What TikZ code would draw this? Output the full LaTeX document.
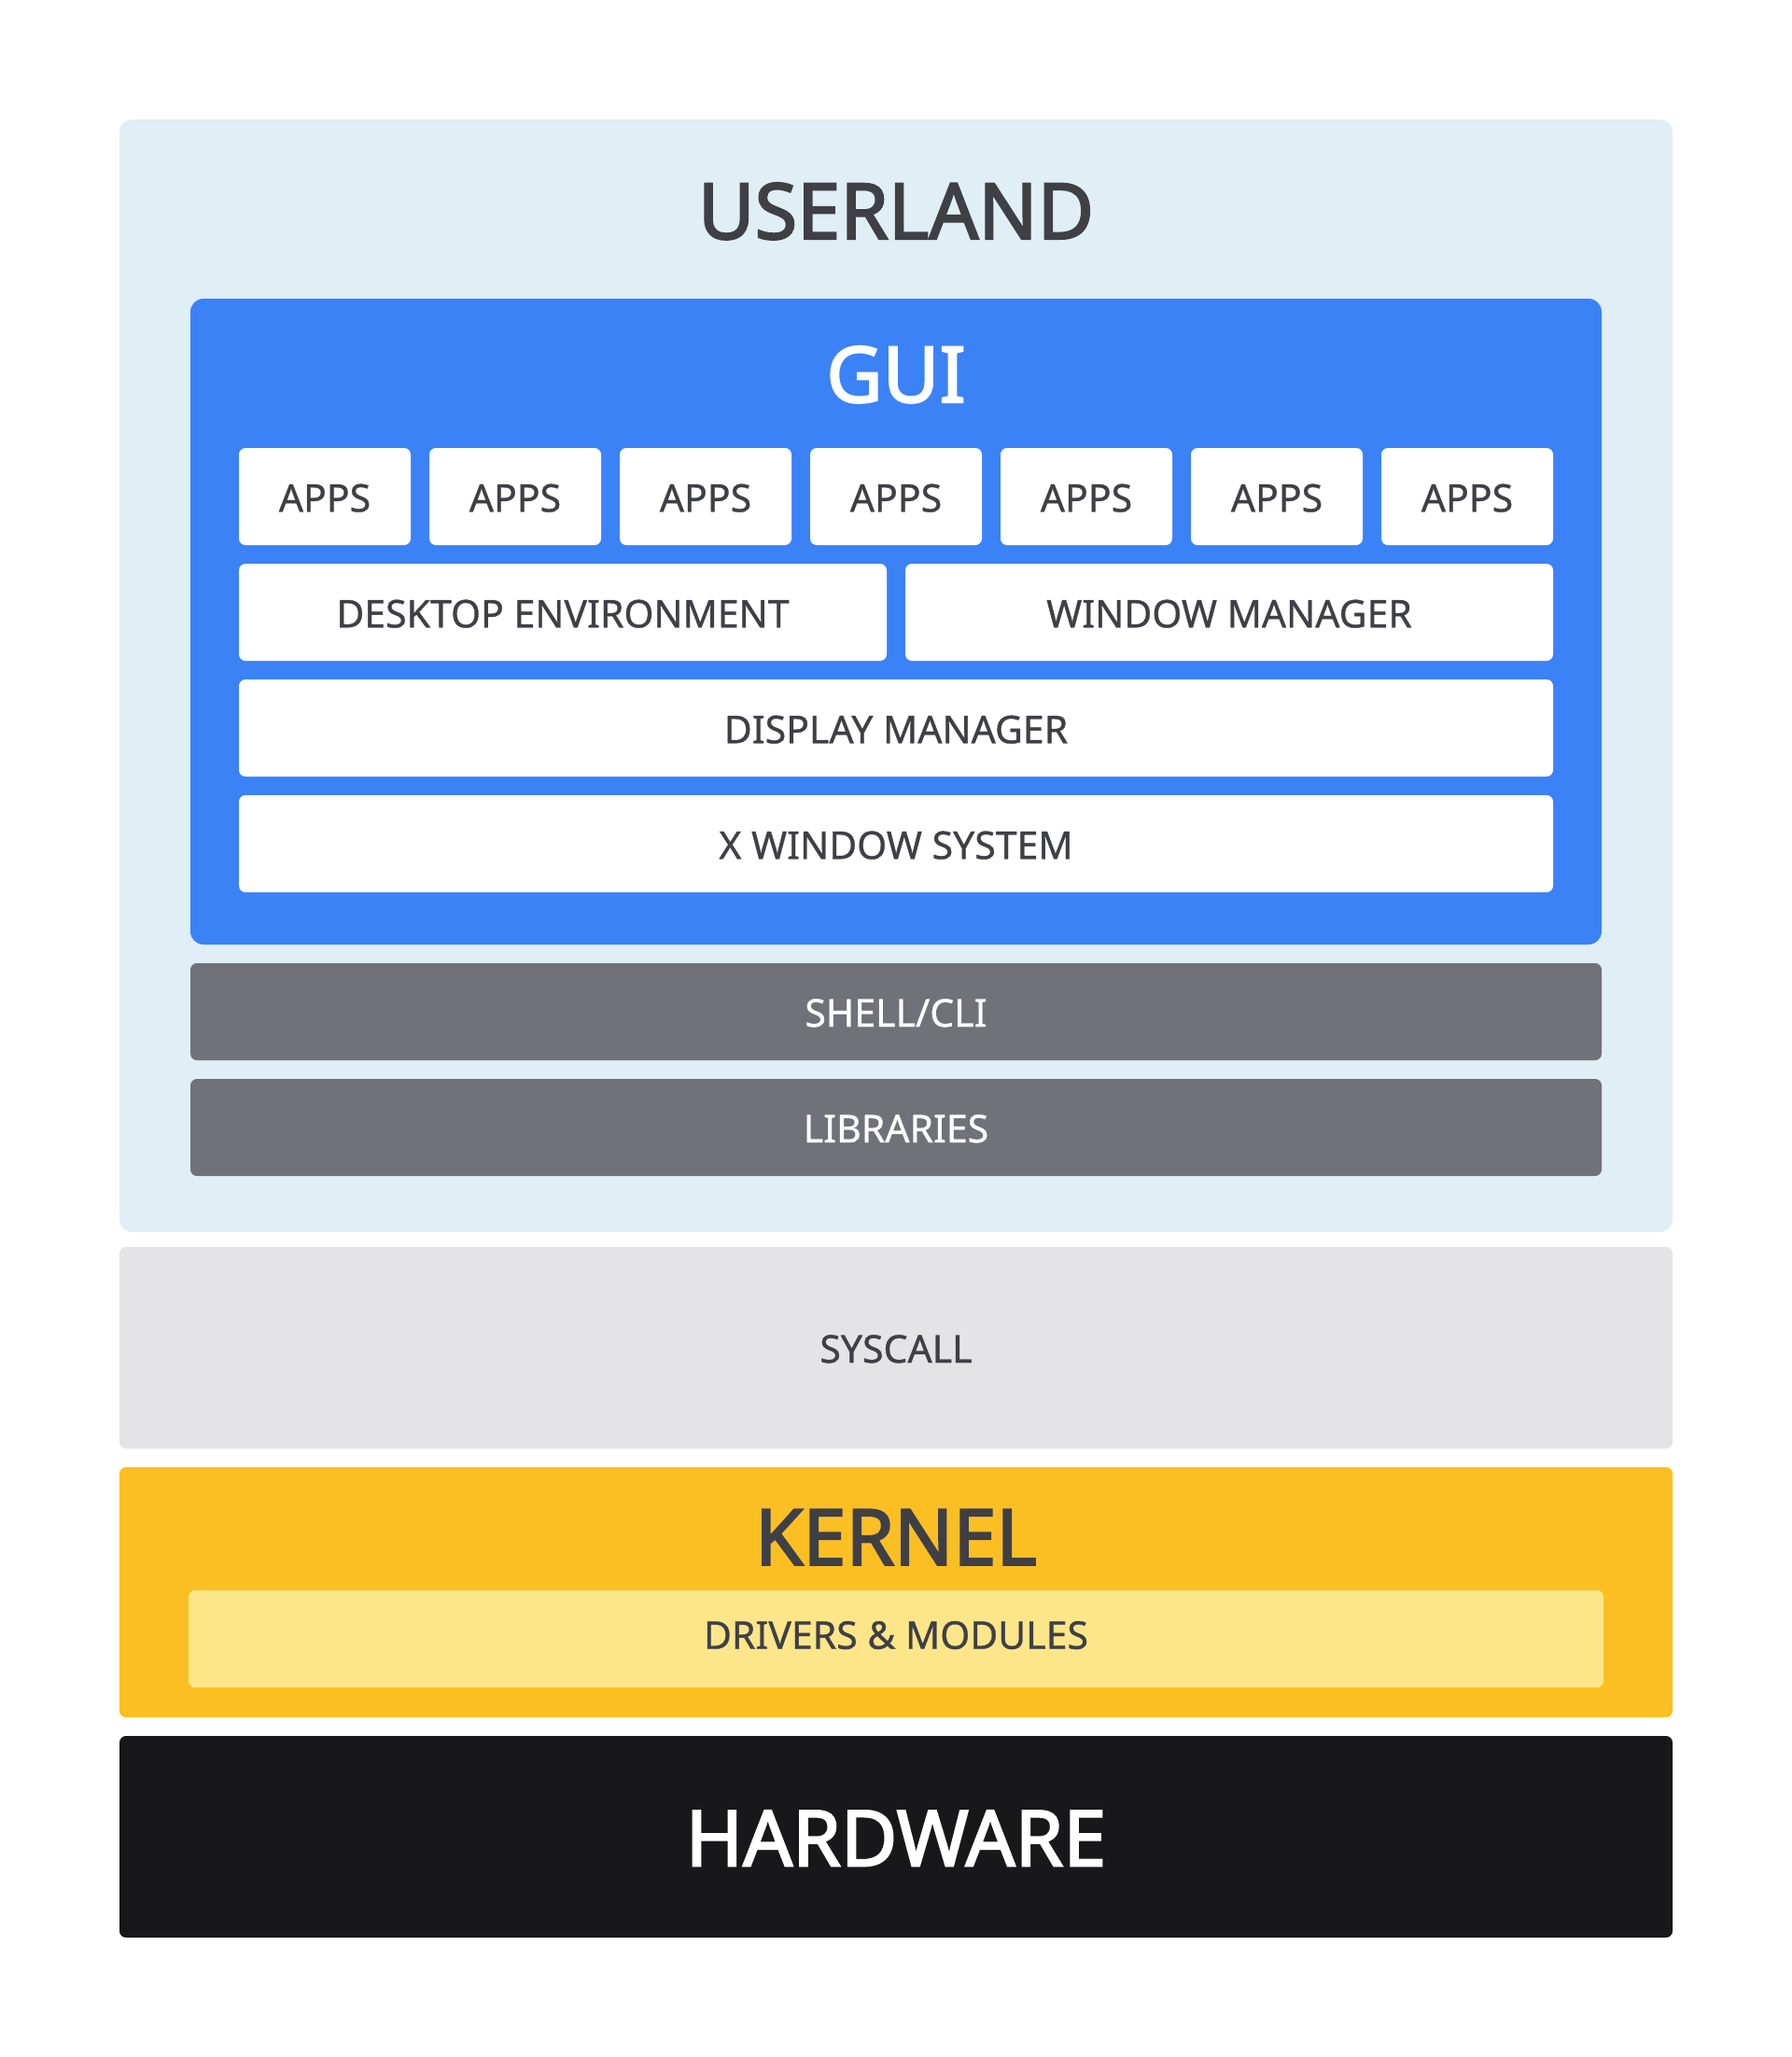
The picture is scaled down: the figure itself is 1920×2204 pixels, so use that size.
\documentclass[tikz,border=0pt]{standalone}
\usepackage{fontspec}
\setmainfont{Noto Sans}
\IfFontExistsTF{Noto Sans SemiBold}{\newfontfamily\titlefont{Noto Sans SemiBold}}{%
    \newfontfamily\titlefont{Noto Sans}[FakeBold=2.5]}
\IfFontExistsTF{Noto Sans Medium}{\newfontfamily\labelfont{Noto Sans Medium}}{%
  \newfontfamily\labelfont{Noto Sans}[FakeBold=0.8]}
\definecolor{bgblue}{HTML}{E0EEF6}
\definecolor{guiblue}{HTML}{3B82F6}
\definecolor{barGray}{HTML}{71717A}
\definecolor{sysGray}{HTML}{E4E4E7}
\definecolor{kernYel}{HTML}{FBBF24}
\definecolor{drvYel}{HTML}{FDE68A}
\definecolor{hwBlack}{HTML}{18181B}
\definecolor{txtDark}{HTML}{3F3F46}
\tikzset{
  box/.style={draw=none, inner sep=0pt, outer sep=0pt, anchor=north west, rounded corners=7pt},
  bigbox/.style={box, rounded corners=14pt},
  title/.style={inner sep=0pt, anchor=base, font=\titlefont\fontsize{83}{90}\selectfont},
  label/.style={inner sep=0pt, anchor=base, font=\labelfont\fontsize{41}{48}\selectfont},
}
\begin{document}
\begin{tikzpicture}[x=1pt,y=-1pt]
\path[use as bounding box, fill=white] (0,0) rectangle (1920,2204);
% USERLAND
\node[bigbox, fill=bgblue, minimum width=1664pt, minimum height=1192pt] (user) at (128,128) {};
\node[title, text=txtDark] (tuser) at (960,256) {USERLAND};
% GUI
\node[bigbox, fill=guiblue, minimum width=1512pt, minimum height=692pt] (gui) at (204,320) {};
\node[title, text=white] (tgui) at (960,431) {GUI};
% APPS
\foreach \i in {0,...,6} {
  \node[box, fill=white, minimum width=184pt, minimum height=104pt] (app\i) at ({256+204*\i},480) {};
  \node[label, text=txtDark] (tapp\i) at ({348+204*\i},548.3) {APPS};
}
\node[box, fill=white, minimum width=694pt, minimum height=104pt] (de) at (256,604) {};
\node[label, text=txtDark] (tde) at (603,672.3) {DESKTOP ENVIRONMENT};
\node[box, fill=white, minimum width=694pt, minimum height=104pt] (wm) at (970,604) {};
\node[label, text=txtDark] (twm) at (1317,672.3) {WINDOW MANAGER};
\node[box, fill=white, minimum width=1408pt, minimum height=104pt] (dm) at (256,728) {};
\node[label, text=txtDark] (tdm) at (960,796.3) {DISPLAY MANAGER};
\node[box, fill=white, minimum width=1408pt, minimum height=104pt] (xw) at (256,852) {};
\node[label, text=txtDark] (txw) at (960,920.3) {X WINDOW SYSTEM};
% SHELL / LIBS
\node[box, fill=barGray, minimum width=1512pt, minimum height=104pt] (shell) at (204,1032) {};
\node[label, text=white] (tshell) at (960,1100) {SHELL/CLI};
\node[box, fill=barGray, minimum width=1512pt, minimum height=104pt] (libs) at (204,1156) {};
\node[label, text=white] (tlibs) at (960,1224) {LIBRARIES};
% SYSCALL
\node[box, fill=sysGray, minimum width=1664pt, minimum height=216pt] (sys) at (128,1336) {};
\node[label, text=txtDark] (tsys) at (960,1460) {SYSCALL};
% KERNEL
\node[box, fill=kernYel, minimum width=1664pt, minimum height=268pt] (kern) at (128,1572) {};
\node[title, text=txtDark] (tkern) at (960,1676.7) {KERNEL};
\node[box, fill=drvYel, minimum width=1516pt, minimum height=104pt] (drv) at (202,1704) {};
\node[label, text=txtDark] (tdrv) at (960,1766.7) {DRIVERS \& MODULES};
% HARDWARE
\node[box, fill=hwBlack, minimum width=1664pt, minimum height=216pt] (hw) at (128,1860) {};
\node[title, text=white] (thw) at (960,1999.3) {HARDWARE};
\end{tikzpicture}
\end{document}
